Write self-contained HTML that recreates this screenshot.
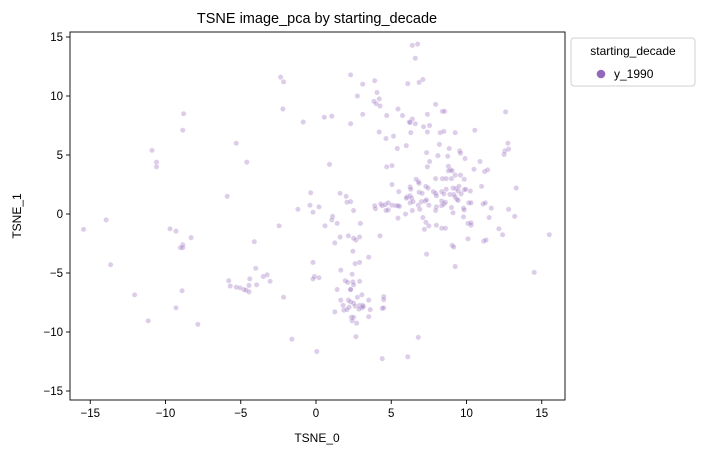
<!DOCTYPE html>
<html><head><meta charset="utf-8">
<style>
html,body{margin:0;padding:0;background:#fff;}
svg{display:block;font-family:"Liberation Sans","DejaVu Sans",sans-serif;}
</style></head>
<body>
<svg id="chart" width="704" height="455" viewBox="0 0 704 455" xmlns="http://www.w3.org/2000/svg">
<text x="317" y="23" text-anchor="middle" font-size="14.5" fill="#000">TSNE image_pca by starting_decade</text>
<g id="plot"></g>
<text x="317" y="442" text-anchor="middle" font-size="12" fill="#000">TSNE_0</text>
<text x="21" y="216" text-anchor="middle" font-size="12" fill="#000" transform="rotate(-90 21 216)">TSNE_1</text>
<g>
<rect x="571" y="38" width="124" height="48" rx="3" fill="#fff" stroke="#d0d0d0"/>
<text x="633" y="55" text-anchor="middle" font-size="12" fill="#000">starting_decade</text>
<circle cx="601" cy="74" r="4.3" fill="#9467bd"/>
<text x="614" y="78" font-size="12" fill="#000">y_1990</text>
</g>
</svg>
<script>
const xTicks=[-15,-10,-5,0,5,10,15];
const yTicks=[-15,-10,-5,0,5,10,15];
const xs=[-2.35,-2.15,-2.2,-0.85,-8.8,-8.85,-10.9,-10.6,-10.6,-5.3,-4.6,-5.9,-0.35,-0.4,-0.2,-1.2,-2.45,-13.95,-15.45,-9.7,-9.3,-8.3,-8.85,-9.0,-8.85,-4.1,-13.65,-4.0,-0.2,-5.8,-5.7,-5.3,-5.05,-4.8,-4.65,-4.45,-4.4,-4.45,-3.95,-3.5,-3.25,-3.05,-2.15,-8.9,-12.05,-9.3,-11.15,-7.85,-1.6,
6.4,6.75,6.6,2.3,3.1,3.9,6.1,6.85,7.1,4.05,3.85,4.2,4.0,4.25,2.75,0.55,1.05,2.3,3.1,4.7,5.45,5.75,6.2,6.4,6.25,6.6,7.4,7.95,8.4,8.55,12.6,4.2,4.65,5.15,6.3,7.15,7.55,7.4,8.25,8.5,9.25,10.55,5.4,6.0,8.2,8.85,7.35,8.1,8.75,9.55,9.6,9.9,10.9,10.5,11.2,11.4,12.75,12.8,12.55,12.5,0.9,4.7,5.05,7.55,7.4,8.8,8.95,8.8,9.05,7.95,8.4,8.65,9.0,9.25,9.6,9.85,5.05,6.65,6.8,6.85,6.25,6.3,7.3,7.45,9.1,9.3,9.5,9.45,9.85,9.95,10.25,11.0,13.3,1.6,2.0,5.5,6.05,6.25,6.35,6.0,6.85,7.05,7.8,7.95,8.0,8.35,8.5,8.65,8.9,9.15,9.25,9.35,9.65,0.2,2.05,2.3,2.5,
1.1,1.05,0.6,1.4,2.95,3.9,3.95,4.3,4.4,4.6,4.8,4.65,4.8,5.05,5.3,5.45,5.55,5.45,5.95,6.25,6.45,6.8,6.9,7.0,7.25,7.5,7.35,6.4,7.1,7.3,7.5,7.2,8.0,7.95,8.35,8.5,8.6,8.35,8.0,8.35,8.6,9.0,9.1,9.45,9.8,9.85,9.8,10.15,10.3,10.1,10.3,10.3,11.1,11.25,11.65,11.5,12.8,13.2,10.1,11.15,11.3,12.15,12.4,9.05,9.15,9.25,7.35,15.5,14.5,2.15,2.5,2.65,2.9,1.6,1.25,4.25,2.45,2.6,2.9,3.5,-0.1,-0.2,0.2,1.65,2.4,1.95,2.1,2.45,2.5,2.9,2.3,2.3,1.4,2.75,3.05,1.65,2.15,2.3,2.5,3.5,4.5,4.5,1.8,2.2,1.85,2.05,2.6,2.9,3.1,3.05,3.15,2.85,3.6,4.4,4.5,1.25,2.35,2.5,2.4,3.5,2.7,2.65,6.8,0.05,4.4,6.1];
const ys=[11.6,11.2,8.9,7.8,8.5,7.1,5.4,4.4,4.0,6.0,4.4,1.5,1.8,0.75,0.15,0.4,-1.0,-0.5,-1.3,-1.25,-1.45,-2.0,-2.6,-2.85,-2.85,-2.35,-4.3,-4.6,-4.1,-5.65,-6.1,-6.2,-6.25,-6.4,-6.45,-6.6,-5.5,-6.05,-6.0,-5.3,-5.15,-5.7,-7.05,-6.5,-6.85,-7.95,-9.05,-9.35,-10.6,
14.3,14.4,13.2,11.8,11.0,11.3,11.05,11.15,11.4,10.3,9.55,9.75,9.35,9.15,10.0,8.2,8.3,7.65,8.45,8.35,8.9,8.35,7.8,8.05,7.75,7.65,8.45,9.3,8.7,8.7,8.65,6.95,6.4,6.6,6.9,7.4,7.5,6.95,6.9,7.0,6.9,7.1,5.55,5.8,5.9,5.55,5.2,4.95,4.9,5.35,5.15,4.7,4.45,3.8,3.6,3.75,6.0,5.5,5.35,5.05,4.2,4.0,4.1,4.45,4.0,4.05,3.75,3.65,3.65,3.0,3.0,3.0,3.0,3.3,3.3,2.95,2.5,2.95,2.75,2.6,2.3,2.1,2.35,2.2,2.2,2.15,2.35,1.95,2.05,2.1,1.95,2.35,2.2,1.75,1.5,1.9,1.45,1.55,1.35,1.35,1.85,1.75,1.9,1.75,1.55,1.9,1.7,2.1,1.65,1.65,1.45,1.25,1.7,0.6,1.0,1.05,0.3,
-0.2,-0.5,-1.0,-0.8,-0.8,0.7,0.45,0.85,0.7,0.8,0.95,0.3,0.35,0.75,0.7,0.7,0.65,-0.35,0.0,0.95,1.05,0.75,0.4,1.05,1.1,0.75,1.2,0.3,-0.3,-0.7,-1.0,-1.3,0.6,0.3,0.7,0.85,1.0,1.1,-0.95,-1.2,-1.2,0.55,0.1,1.15,0.5,0.35,-0.25,0.95,0.95,-0.8,-0.95,-0.75,0.85,0.95,0.5,-0.3,0.4,-0.2,-2.1,-2.3,-2.2,-1.25,-1.75,-2.65,-2.8,-4.45,-3.4,-1.75,-4.95,-1.85,-2.05,-2.2,-1.95,-1.95,-2.45,-1.85,-3.15,-4.2,-4.1,-3.65,-5.3,-5.5,-5.4,-4.75,-5.1,-5.65,-5.8,-5.75,-6.0,-5.7,-6.4,-6.4,-6.4,-7.05,-6.85,-7.3,-7.3,-7.45,-7.55,-7.3,-7.0,-7.25,-7.75,-7.9,-8.15,-8.1,-7.8,-7.75,-7.75,-7.95,-7.85,-8.05,-8.1,-8.0,-7.95,-8.3,-8.75,-8.75,-9.05,-8.7,-9.25,-10.4,-10.45,-11.65,-12.25,-12.1];

const L=70,R=565,T=32,B=400;
const NS="http://www.w3.org/2000/svg";
function xScale(v){return 316+v*15.05;}
function yScale(v){return 214-v*11.8;}
const g=document.getElementById('plot');
function mk(tag,attrs){const e=document.createElementNS(NS,tag);for(const k in attrs)e.setAttribute(k,attrs[k]);return e;}
const pts=mk('g',{});


g.appendChild(pts);
for(let i=0;i<xs.length;i++){
  const c=mk('circle',{cx:xScale(xs[i]).toFixed(1),cy:yScale(ys[i]).toFixed(1),r:2.6,fill:'rgba(148,103,189,0.33)',stroke:'rgba(255,255,255,0.4)','stroke-width':0.5});
  
  
  pts.appendChild(c);
}
const frame=mk('rect',{x:L,y:T,width:R-L,height:B-T,fill:'none',stroke:'#000','stroke-width':0.9});


g.appendChild(frame);
xTicks.forEach(t=>{
  const x=xScale(t);
  const l=mk('line',{x1:x,x2:x,y1:B,y2:B+4,stroke:'#000','stroke-width':0.9});
  
  
  g.appendChild(l);
  const tx=mk('text',{x:x,y:B+17,'text-anchor':'middle','font-size':11.5,fill:'#000'});
  
  
  tx.textContent=t<0?'\u2212'+Math.abs(t):String(t);
  g.appendChild(tx);
});
yTicks.forEach(t=>{
  const y=yScale(t);
  const l=mk('line',{x1:L-4,x2:L,y1:y,y2:y,stroke:'#000','stroke-width':0.9});
  
  
  g.appendChild(l);
  const tx=mk('text',{x:L-7,y:y+4,'text-anchor':'end','font-size':11.5,fill:'#000'});
  
  
  tx.textContent=t<0?'\u2212'+Math.abs(t):String(t);
  g.appendChild(tx);
});
</script>
</body></html>
